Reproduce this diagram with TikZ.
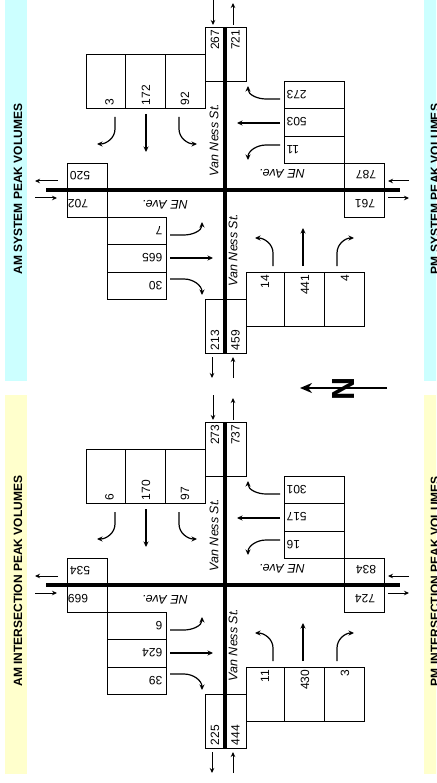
\documentclass[tikz,border=0pt]{standalone}
\usepackage{fontspec}
\setmainfont{Liberation Sans}
\usetikzlibrary{arrows.meta}
\definecolor{bandcyan}{HTML}{CCFFFF}
\definecolor{bandyellow}{HTML}{FFFFCC}
\tikzset{
 box/.style={draw, line width=0.8pt, inner sep=0pt, outer sep=0pt, anchor=north west},
 road/.style={line width=4pt},
 arr/.style={line width=1pt, -{Stealth[length=5pt,width=4.5pt]}},
 tarr/.style={line width=1.2pt, -{Stealth[length=5.5pt,width=5pt]}},
 num/.style={font=\fontsize{12}{12}\selectfont, inner sep=0.5pt},
 street/.style={font=\fontsize{12.5}{12.5}\selectfont\itshape, inner sep=0pt},
 title/.style={font=\fontsize{12}{12}\selectfont\bfseries, inner sep=0pt},
}
\newcommand{\mkbox}[5]{\node[box, minimum width=#4pt, minimum height=#5pt] (#1) at (#2,-#3) {};}
\newcommand{\xsect}[1]{%
 % boxes
 \mkbox{#1nin}{205}{27}{20}{54}
 \mkbox{#1nout}{225}{27}{21}{54}
 \mkbox{#1sout}{205}{299}{20}{54}
 \mkbox{#1sin}{225}{299}{21}{54}
 \mkbox{#1sba}{86}{54}{39}{54}
 \mkbox{#1sbb}{125}{54}{40}{54}
 \mkbox{#1sbc}{165}{54}{40}{54}
 \mkbox{#1wba}{284}{81}{60}{27}
 \mkbox{#1wbb}{284}{108}{60}{28}
 \mkbox{#1wbc}{284}{136}{60}{27}
 \mkbox{#1ein}{344}{163}{40}{27}
 \mkbox{#1eout}{344}{190}{40}{27}
 \mkbox{#1wout}{67}{163}{40}{27}
 \mkbox{#1win}{67}{190}{40}{27}
 \mkbox{#1eba}{107}{217}{59}{27}
 \mkbox{#1ebb}{107}{244}{59}{28}
 \mkbox{#1ebc}{107}{272}{59}{27}
 \mkbox{#1nba}{246}{272}{38}{54}
 \mkbox{#1nbb}{284}{272}{40}{54}
 \mkbox{#1nbc}{324}{272}{40}{54}
 % roads
 \draw[road] (#1nin.north east) -- (#1sin.south west);
 \draw[road] ([shift={(-21,0)}]#1wout.south west) -- ([shift={(16,0)}]#1ein.south east);
 % numbers
 \node[num, rotate=90, anchor=east] (#1tnin) at ([shift={(0,-2)}]#1nin.north) {\Lnin};
 \node[num, rotate=90, anchor=east] (#1tnout) at ([shift={(0,-2)}]#1nout.north) {\Lnout};
 \node[num, rotate=90, anchor=west] (#1tsout) at ([shift={(0,2)}]#1sout.south) {\Lsout};
 \node[num, rotate=90, anchor=west] (#1tsin) at ([shift={(0,2)}]#1sin.south) {\Lsin};
 \node[num, rotate=90, anchor=west] (#1tsba) at ([shift={(4,2)}]#1sba.south) {\Lsba};
 \node[num, rotate=90, anchor=west] (#1tsbb) at ([shift={(1,2)}]#1sbb.south) {\Lsbb};
 \node[num, rotate=90, anchor=west] (#1tsbc) at ([shift={(0,2)}]#1sbc.south) {\Lsbc};
 \node[num, rotate=90, anchor=east] (#1tnba) at ([shift={(0,-2)}]#1nba.north) {\Lnba};
 \node[num, rotate=90, anchor=east] (#1tnbb) at ([shift={(1,-2)}]#1nbb.north) {\Lnbb};
 \node[num, rotate=90, anchor=east] (#1tnbc) at ([shift={(1,-2)}]#1nbc.north) {\Lnbc};
 \node[num, rotate=180, anchor=east] (#1twba) at ([shift={(2,0)}]#1wba.west) {\Lwba};
 \node[num, rotate=180, anchor=east] (#1twbb) at ([shift={(2,0)}]#1wbb.west) {\Lwbb};
 \node[num, rotate=180, anchor=east] (#1twbc) at ([shift={(2,0)}]#1wbc.west) {\Lwbc};
 \node[num, rotate=180, anchor=west] (#1teba) at ([shift={(-3,0)}]#1eba.east) {\Leba};
 \node[num, rotate=180, anchor=west] (#1tebb) at ([shift={(-3,0)}]#1ebb.east) {\Lebb};
 \node[num, rotate=180, anchor=west] (#1tebc) at ([shift={(-3,0)}]#1ebc.east) {\Lebc};
 \node[num, rotate=180] (#1tein) at ([shift={(2,2)}]#1ein.center) {\Lein};
 \node[num, rotate=180] (#1teout) at ([shift={(1,0)}]#1eout.center) {\Leout};
 \node[num, rotate=180] (#1twout) at ([shift={(-7,1)}]#1wout.center) {\Lwout};
 \node[num, rotate=180] (#1twin) at ([shift={(-9,0)}]#1win.center) {\Lwin};
 % street names
 \node[street, rotate=90] (#1vn1) at (214,-140) {Van Ness St.};
 \node[street, rotate=90] (#1vn2) at (233,-250) {Van Ness St.};
 \node[street, rotate=180] (#1ne1) at (282,-174) {NE Ave.};
 \node[street, rotate=180] (#1ne2) at (165,-205) {NE Ave.};
 % approach / departure arrows
 \draw[arr] ([shift={(-2,27)}]#1nin.north) -- ([shift={(-2,2)}]#1nin.north);
 \draw[arr] ([shift={(-2.5,2)}]#1nout.north) -- ++(0,22);
 \draw[arr] ([shift={(-3,-4)}]#1sout.south) -- ++(0,-21);
 \draw[arr] ([shift={(-2.5,-25)}]#1sin.south) -- ++(0,21);
 \draw[arr] ([shift={(-9,-4.5)}]#1wout.west) -- ++(-23,0);
 \draw[arr] ([shift={(-32,5.5)}]#1win.west) -- ++(22,0);
 \draw[arr] ([shift={(25,-4.5)}]#1ein.east) -- ++(-21,0);
 \draw[arr] ([shift={(4,5.5)}]#1eout.east) -- ++(21,0);
 % turning movements
 \draw[tarr] ([shift={(9.5,-9)}]#1sba.south) -- ++(0,-12) to[out=-90,in=0] ++(-18,-15);
 \draw[tarr] ([shift={(1,-6)}]#1sbb.south) -- ++(0,-38);
 \draw[tarr] ([shift={(-6,-9)}]#1sbc.south) -- ++(0,-12) to[out=-90,in=180] ++(18,-15);
 \draw[tarr] ([shift={(-4,-4.5)}]#1wba.west) -- ++(-14,0) to[out=180,in=-90] ++(-18,13);
 \draw[tarr] ([shift={(-4,-1)}]#1wbb.west) -- ++(-43,0);
 \draw[tarr] ([shift={(-4,4.5)}]#1wbc.west) -- ++(-14,0) to[out=180,in=90] ++(-18,-15);
 \draw[tarr] ([shift={(4,-4.5)}]#1eba.east) -- ++(14,0) to[out=0,in=-90] ++(18,13);
 \draw[tarr] ([shift={(4,0)}]#1ebb.east) -- ++(43,0);
 \draw[tarr] ([shift={(4,6.5)}]#1ebc.east) -- ++(14,0) to[out=0,in=90] ++(18,-16);
 \draw[tarr] ([shift={(8,6)}]#1nba.north) -- ++(0,13) to[out=90,in=0] ++(-18,15);
 \draw[tarr] ([shift={(-1,6)}]#1nbb.north) -- ++(0,38);
 \draw[tarr] ([shift={(-7,6)}]#1nbc.north) -- ++(0,13) to[out=90,in=180] ++(17,15);
}
\begin{document}
\begin{tikzpicture}[x=1pt,y=1pt]
\useasboundingbox (0,0) rectangle (436,-783);
\clip (0,0) rectangle (436,-783);
\fill[white] (0,0) rectangle (436,-783);
% side bands
\fill[bandcyan] (5,0) rectangle (27,-381);
\fill[bandyellow] (5,-395) rectangle (27,-774);
\fill[bandcyan] (424,0) rectangle (450,-381);
\fill[bandyellow] (424,-395) rectangle (450,-774);
\node[title, rotate=90] (t1) at (18,-189) {AM SYSTEM PEAK VOLUMES};
\node[title, rotate=90] (t2) at (18,-581) {AM INTERSECTION PEAK VOLUMES};
\node[title, rotate=90] (t3) at (435,-189) {PM SYSTEM PEAK VOLUMES};
\node[title, rotate=90] (t4) at (435,-581) {PM INTERSECTION PEAK VOLUMES};
% AM system
\def\Lnin{267}\def\Lnout{721}\def\Lsout{213}\def\Lsin{459}
\def\Lsba{3}\def\Lsbb{172}\def\Lsbc{92}
\def\Lwba{273}\def\Lwbb{503}\def\Lwbc{11}
\def\Lein{787}\def\Leout{761}\def\Lwout{520}\def\Lwin{702}
\def\Leba{7}\def\Lebb{665}\def\Lebc{30}
\def\Lnba{14}\def\Lnbb{441}\def\Lnbc{4}
\xsect{a}
% AM intersection
\begin{scope}[yshift=-395pt]
\def\Lnin{273}\def\Lnout{737}\def\Lsout{225}\def\Lsin{444}
\def\Lsba{6}\def\Lsbb{170}\def\Lsbc{97}
\def\Lwba{301}\def\Lwbb{517}\def\Lwbc{16}
\def\Lein{834}\def\Leout{724}\def\Lwout{534}\def\Lwin{669}
\def\Leba{6}\def\Lebb{624}\def\Lebc{39}
\def\Lnba{11}\def\Lnbb{430}\def\Lnbc{3}
\xsect{b}
\end{scope}
% north arrow
\coordinate (ntail) at (387,-388);
\coordinate (nhead) at (300,-388);
\draw[line width=2.5pt, -{Stealth[length=12pt,width=10pt]}] (ntail) -- (nhead);
\node[font=\fontsize{32}{32}\selectfont\bfseries, rotate=90, inner sep=0pt] (nlet) at (343,-389) {N};
\end{tikzpicture}
\end{document}
